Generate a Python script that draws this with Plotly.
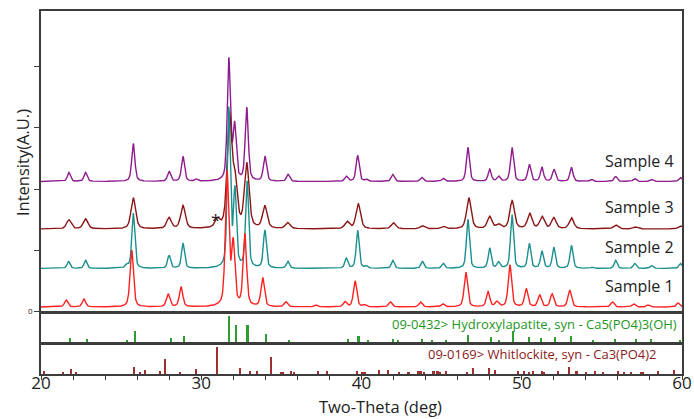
import numpy as np
import plotly.graph_objects as go

# ---------------- data ----------------
samples = ["Sample 1", "Sample 2", "Sample 3", "Sample 4"]
colors = ["#ff2020", "#1a8f8f", "#8b1414", "#8e1b8e"]
baselines = [73, 703, 1348, 2124]          # counts
fwhm = [0.25, 0.22, 0.34, 0.23]            # deg

s1_pos = [21.57, 22.68, 25.66, 27.93, 28.74, 31.61, 31.99, 32.72, 33.83, 35.28, 37.15, 38.97, 39.60, 40.20,
          41.80, 43.68, 45.07, 46.51, 47.90, 48.45, 49.26, 50.28, 51.11, 51.89, 52.99, 55.66, 56.98, 57.90, 59.76]
s1_hgt = [114, 131, 931, 212, 327, 2182, 1013, 1176, 474, 82, 33, 82, 425, 33,
          82, 82, 49, 572, 245, 82, 686, 294, 196, 212, 278, 82, 49, 33, 65]

s2_pos = [21.72, 22.78, 25.35, 25.76, 27.99, 28.86, 31.72, 32.10, 32.86, 33.97, 35.40, 39.05, 39.76, 40.30,
          41.95, 43.80, 45.10, 46.64, 48.00, 48.55, 49.39, 50.47, 51.26, 52.00, 53.10, 54.40, 55.86, 57.05, 58.10, 59.90]
s2_hgt = [114, 131, 49, 899, 212, 408, 2590, 1242, 1405, 621, 114, 163, 621, 33,
          131, 114, 82, 801, 327, 98, 882, 408, 278, 343, 376, 16, 131, 82, 49, 82]

s3_pos = [21.74, 22.78, 25.76, 27.99, 28.86, 31.00, 31.76, 32.10, 32.84, 33.97, 35.40, 39.10, 39.80,
          42.00, 43.80, 45.10, 46.70, 48.00, 48.55, 49.40, 50.50, 51.26, 52.00, 53.10, 55.86, 57.10, 59.90]
s3_hgt = [147, 163, 507, 180, 376, 131, 1800, 717, 1046, 360, 98, 114, 408,
          98, 49, 41, 507, 196, 65, 458, 245, 196, 180, 180, 65, 33, 49]

s4_pos = [21.74, 22.78, 25.76, 27.99, 28.86, 29.70, 31.72, 32.08, 32.84, 33.97, 35.42, 39.05, 39.76, 40.30,
          41.95, 43.76, 45.10, 46.64, 48.00, 48.55, 49.39, 50.47, 51.26, 52.01, 53.10, 54.34, 55.86, 57.05, 58.10, 59.90]
s4_hgt = [147, 147, 620, 163, 408, 33, 1982, 882, 1193, 408, 114, 82, 425, 33,
          114, 65, 49, 556, 196, 82, 556, 278, 229, 196, 229, 33, 82, 49, 33, 65]

# Reference stick patterns (relative intensity, %)
ha_label = "09-0432> Hydroxylapatite, syn - Ca5(PO4)3(OH)"
ha_pos = [21.82, 22.90, 25.36, 25.88, 28.13, 28.95, 31.77, 32.20, 32.90, 34.05, 35.49, 39.18, 39.83, 40.43,
          41.99, 42.30, 43.80, 44.40, 45.30, 46.68, 48.09, 48.57, 49.49, 50.49, 51.22, 52.10, 53.09, 54.45,
          55.84, 57.17, 58.09, 59.90]
ha_int = [14, 13, 7, 42, 15, 22, 100, 64, 64, 31, 9, 12, 24, 6,
          13, 5, 13, 6, 9, 27, 19, 9, 42, 21, 15, 21, 24, 6,
          13, 13, 13, 9]

wh_label = "09-0169> Whitlockite, syn - Ca3(PO4)2"
wh_pos = [20.22, 21.39, 21.89, 22.20, 25.80, 26.18, 26.50, 27.42, 27.76, 28.67, 29.66, 31.01, 32.45, 33.03,
          33.49, 34.36, 34.97, 35.14, 35.60, 35.80, 37.30, 37.86, 39.76, 40.03, 40.20, 41.10, 41.66, 42.36,
          42.95, 43.57, 43.74, 43.89, 44.51, 44.76, 44.90, 45.30, 46.60, 46.99, 47.95, 48.36, 49.76, 50.17,
          50.47, 50.72, 51.28, 51.43, 52.26, 52.95, 53.43, 54.03, 54.60, 55.10, 56.00, 56.39, 56.82, 57.47,
          57.57, 58.50, 59.51]
wh_int = [12, 8, 19, 9, 27, 9, 15, 11, 56, 6, 19, 100, 22, 13,
          13, 64, 9, 9, 13, 8, 11, 11, 13, 7, 7, 15, 15, 7,
          7, 11, 11, 9, 11, 11, 7, 11, 5, 21, 21, 15, 11, 11,
          7, 11, 11, 7, 11, 26, 11, 7, 11, 7, 11, 9, 7, 9,
          9, 11, 15]

x_ticks = list(range(20, 61, 2))
x_ticklabels = [str(v) if v % 10 == 0 else "" for v in x_ticks]
y_ticks = [0, 1000, 2000, 3000, 4000]
y_ticklabels = ["0", "", "", "", ""]

# ---------------- build profiles from the peak tables ----------------
tt = np.arange(20.0, 60.0001, 0.02)


def pattern(pos, hgt, w, base, eta=0.5):
    y = np.full_like(tt, float(base))
    for p, h in zip(pos, hgt):
        d = (tt - p) / (w / 2.0)
        y += h * (eta / (1.0 + d * d) + (1 - eta) * np.exp(-np.log(2) * d * d))
    return y


tables = [(s1_pos, s1_hgt), (s2_pos, s2_hgt), (s3_pos, s3_hgt), (s4_pos, s4_hgt)]

fig = go.Figure()
for i in [3, 2, 1, 0]:
    pos, hgt = tables[i]
    fig.add_trace(go.Scatter(x=tt, y=pattern(pos, hgt, fwhm[i], baselines[i]), mode="lines",
                             line=dict(color=colors[i], width=1.4), name=samples[i],
                             xaxis="x", yaxis="y", showlegend=False))

fig.add_trace(go.Bar(x=ha_pos, y=ha_int, width=0.1, marker=dict(color="#2f9e2f", line_width=0),
                     xaxis="x2", yaxis="y2", showlegend=False))
fig.add_trace(go.Bar(x=wh_pos, y=wh_int, width=0.1, marker=dict(color="#a03030", line_width=0),
                     xaxis="x3", yaxis="y3", showlegend=False))

L, R, T, B = 41, 12, 11, 45
W, H = 694, 419
pw, ph = W - L - R, H - T - B


def px(xp):
    return (xp - L) / pw


def py(yp):
    return (T + ph - yp) / ph


axline = dict(showline=True, linecolor="#3c3c3c", linewidth=1.5, mirror=True, showgrid=False, zeroline=False)

fig.update_layout(
    width=W, height=H, margin=dict(l=L, r=R, t=T, b=B, autoexpand=False),
    paper_bgcolor="white", plot_bgcolor="white",
    font=dict(family="Open Sans", color="#222222"),
    bargap=0,
    xaxis=dict(domain=[0, 1], anchor="y", range=[20, 60], showticklabels=False, ticks="", **axline),
    xaxis2=dict(domain=[0, 1], anchor="y2", range=[20, 60], showticklabels=False, ticks="", matches="x", **axline),
    xaxis3=dict(domain=[0, 1], anchor="y3", range=[20, 60], matches="x", tickmode="array",
                tickvals=x_ticks, ticktext=x_ticklabels, ticks="outside", ticklen=4, tickwidth=1.3,
                tickcolor="#3c3c3c", tickfont=dict(size=17, color="#222222"), ticklabelstandoff=-11, **axline),
    yaxis=dict(domain=[py(311.5), 1], anchor="x", range=[0, 4910], tickmode="array", tickvals=y_ticks,
               ticktext=y_ticklabels, ticks="outside", ticklen=5, tickwidth=1, tickcolor="#3c3c3c",
               tickfont=dict(size=8, color="#222222"), **axline),
    yaxis2=dict(domain=[py(342), py(313)], anchor="x2", range=[0, 111], showticklabels=False, ticks="", **axline),
    yaxis3=dict(domain=[0, py(345)], anchor="x3", range=[0, 109], showticklabels=False, ticks="", **axline),
)

ann = []
label_y = [286, 246.7, 206.7, 161]
for i in range(4):
    ann.append(dict(x=px(676), y=py(label_y[i]), xref="paper", yref="paper", text=samples[i], showarrow=False,
                    xanchor="right", yanchor="middle", font=dict(size=16, color="#222222")))
ann.append(dict(x=px(679), y=py(324), xref="paper", yref="paper", text=ha_label, showarrow=False,
                xanchor="right", yanchor="middle", font=dict(size=13, color="#1e961e")))
ann.append(dict(x=px(659), y=py(354), xref="paper", yref="paper", text=wh_label, showarrow=False,
                xanchor="right", yanchor="middle", font=dict(size=13, color="#8b1a1a")))
ann.append(dict(x=px(215), y=py(219), xref="paper", yref="paper", text="*", showarrow=False,
                xanchor="center", yanchor="middle", font=dict(size=17, color="#222222")))
ann.append(dict(x=px(380), y=py(406), xref="paper", yref="paper", text="Two-Theta (deg)", showarrow=False,
                xanchor="center", yanchor="middle", font=dict(size=16.5, color="#222222")))
ann.append(dict(x=px(22), y=py(163), xref="paper", yref="paper", text="Intensity(A.U.)", showarrow=False,
                textangle=-90, xanchor="center", yanchor="middle", font=dict(size=16.5, color="#222222")))
fig.update_layout(annotations=ann)

fig.write_html("out.html", config={"displayModeBar": False},
               post_script="document.body.style.margin='0';document.body.style.padding='0';")
